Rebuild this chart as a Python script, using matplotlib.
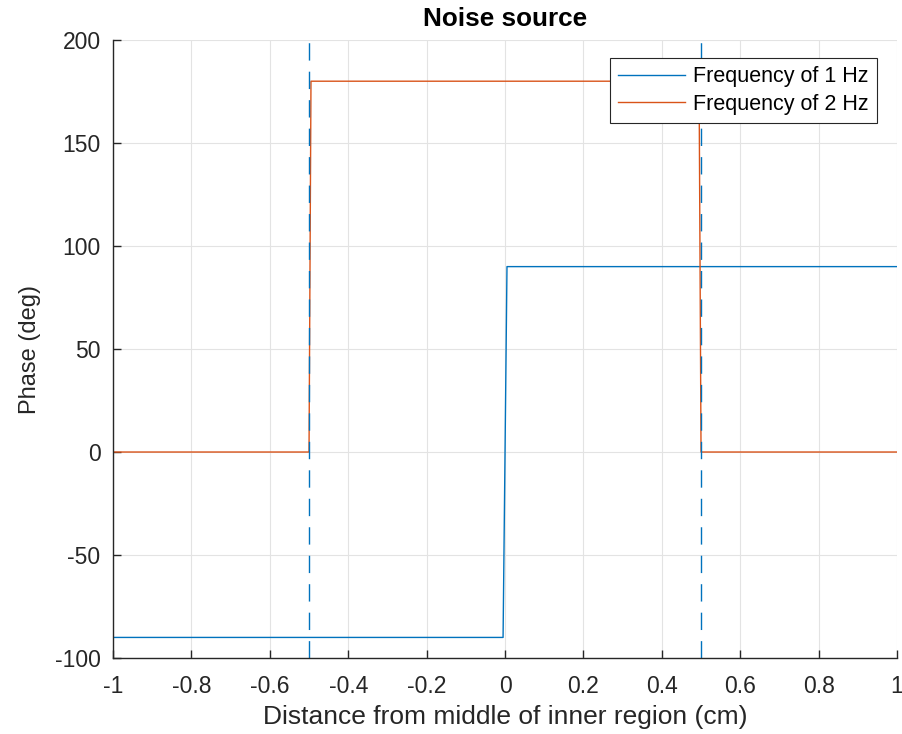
import matplotlib.pyplot as plt

plt.rcParams['font.family'] = ['Liberation Sans', 'DejaVu Sans']
plt.rcParams['axes.unicode_minus'] = False

# step profiles of the phase across the region
x_1hz = [-1.0, -0.005, 0.005, 1.0]
phase_1hz = [-90, -90, 90, 90]
x_2hz = [-1.0, -0.5, -0.495, 0.495, 0.5, 1.0]
phase_2hz = [0, 0, 180, 180, 0, 0]
boundaries = [-0.5, 0.5]

xticks = [-1, -0.8, -0.6, -0.4, -0.2, 0, 0.2, 0.4, 0.6, 0.8, 1]
xticklabels = ['-1', '-0.8', '-0.6', '-0.4', '-0.2', '0', '0.2', '0.4', '0.6', '0.8', '1']
yticks = [-100, -50, 0, 50, 100, 150, 200]

blue = '#0072BD'
orange = '#D95319'

fig = plt.figure(figsize=(9.02, 7.34), dpi=100)
ax = fig.add_axes([0.1253, 0.1035, 0.8692, 0.842])

ax.plot(x_1hz, phase_1hz, color=blue, lw=1.0, label='Frequency of 1 Hz')
ax.plot(x_2hz, phase_2hz, color=orange, lw=1.0, label='Frequency of 2 Hz')
for b in boundaries:
    ax.axvline(b, color=blue, lw=1.0, ls=(0, (12.5, 8)))

ax.set_xlim(-1, 1)
ax.set_ylim(-100, 200)
ax.set_xticks(xticks)
ax.set_xticklabels(xticklabels)
ax.set_yticks(yticks)
ax.grid(True, color='#E3E3E3', lw=0.8)
ax.set_axisbelow(True)

for s in ['top', 'right']:
    ax.spines[s].set_visible(False)
for s in ['left', 'bottom']:
    ax.spines[s].set_color('#262626')
    ax.spines[s].set_linewidth(1.0)
ax.tick_params(direction='in', length=6, width=1.0, color='#262626',
               labelsize=16.5, labelcolor='#262626')
ax.tick_params(axis='x', pad=12)
ax.tick_params(axis='y', pad=9)

ax.set_xlabel('Distance from middle of inner region (cm)', fontsize=19, color='#262626', labelpad=5)
ax.set_ylabel('Phase (deg)', fontsize=17, color='#262626', labelpad=10)
ax.set_title('Noise source', fontsize=18.8, fontweight='bold', color='black', pad=10)

leg = ax.legend(loc='upper right', bbox_to_anchor=(0.9745, 0.9705), fontsize=15.5,
                frameon=True, fancybox=False, edgecolor='#262626', framealpha=1,
                handlelength=3.1, handletextpad=0.4, borderpad=0.38, labelspacing=0.3,
                borderaxespad=0)
leg.get_frame().set_linewidth(0.8)

fig.savefig('out.png', dpi=100)
